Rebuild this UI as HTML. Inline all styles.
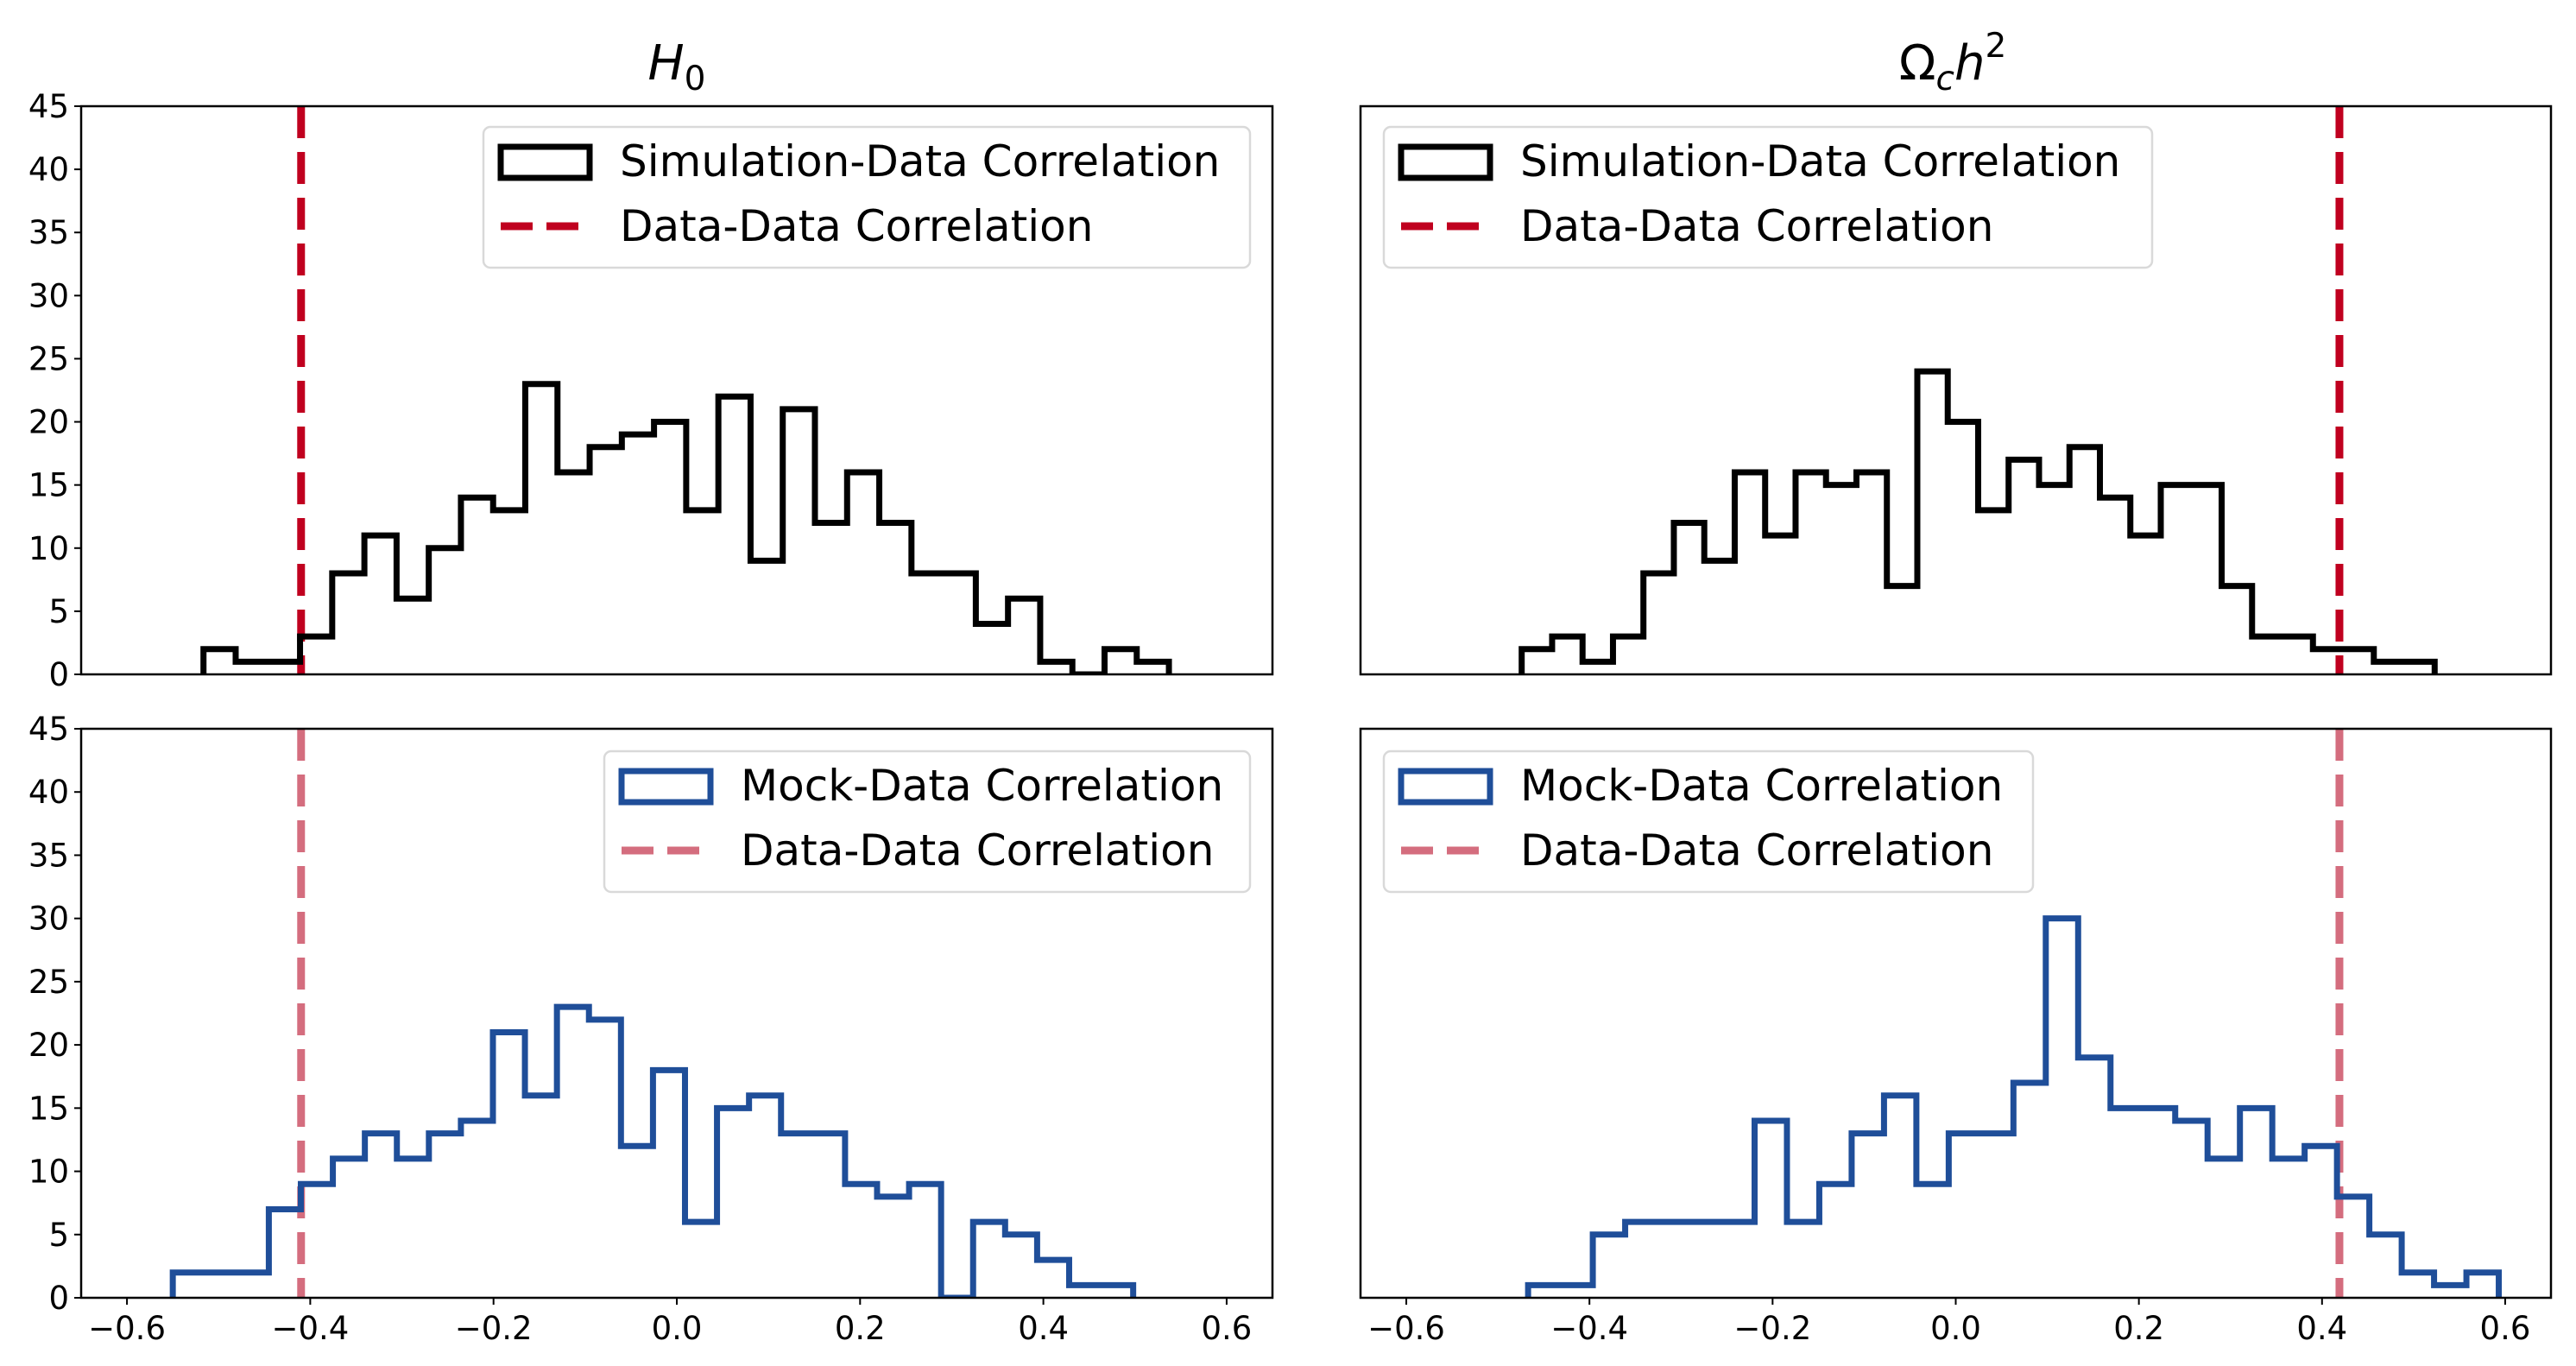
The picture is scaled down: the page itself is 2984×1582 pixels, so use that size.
<!DOCTYPE html>
<html><head><meta charset="utf-8">
<style>
html,body{margin:0;padding:0;background:#fff;}
svg{display:block;font-family:"DejaVu Sans","Liberation Sans",sans-serif;}
</style></head>
<body>
<svg id="fig" width="2984" height="1582" viewBox="0 0 2984 1582" xmlns="http://www.w3.org/2000/svg"></svg>
<script>
// ---- data ----
const h0SimCounts = [2,1,1,3,8,11,6,10,14,13,23,16,18,19,20,13,22,9,21,12,16,12,8,8,4,6,1,0,2,1];
const h0SimRange = [-0.5165, 0.537];
const h0MockCounts = [2,2,2,7,9,11,13,11,13,14,21,16,23,22,12,18,6,15,16,13,13,9,8,9,0,6,5,3,1,1];
const h0MockRange = [-0.55, 0.498];
const omSimCounts = [2,3,1,3,8,12,9,16,11,16,15,16,7,24,20,13,17,15,18,14,11,15,15,7,3,3,2,2,1,1];
const omSimRange = [-0.474, 0.523];
const omMockCounts = [1,1,5,6,6,6,6,14,6,9,13,16,9,13,13,17,30,19,15,15,14,11,15,11,12,8,5,2,1,2];
const omMockRange = [-0.467, 0.593];
const h0DataCorr = -0.41;
const omDataCorr = 0.419;
const xTicks = [-0.6,-0.4,-0.2,0.0,0.2,0.4,0.6];
const xTickLabels = ["\u22120.6","\u22120.4","\u22120.2","0.0","0.2","0.4","0.6"];
const yTicks = [0,5,10,15,20,25,30,35,40,45];
const xLim = [-0.65, 0.65];
const yLim = [0, 45];

const NS = "http://www.w3.org/2000/svg";
const svg = document.getElementById('fig');
function mk(tag, attrs, parent){
  const e = document.createElementNS(NS, tag);
  for (const k in attrs) e.setAttribute(k, attrs[k]);
  (parent||svg).appendChild(e);
  return e;
}
const RED = "#c0001f", PINK = "#d46d7e", BLUE = "#1f4e99";

function panel(cfg){
  const {x0,x1,y0,y1} = cfg;
  const sx = v => x0 + (v - xLim[0]) / (xLim[1]-xLim[0]) * (x1-x0);
  const sy = v => y1 - (v - yLim[0]) / (yLim[1]-yLim[0]) * (y1-y0);
  const g = mk('g', {});
  
  
  const clipId = cfg.name + '-clip';
  const cp = mk('clipPath', {id: clipId}, g);
  mk('rect', {x:x0, y:y0, width:x1-x0, height:y1-y0}, cp);

  const xl = sx(cfg.lineVal);
  const ln = mk('line', {x1:xl, x2:xl, y1:y0, y2:y1, stroke:cfg.lineColor, 'stroke-width':9, 'stroke-dasharray':'37 16', 'clip-path':`url(#${clipId})`}, g);
  
  

  const n = cfg.counts.length;
  const w = (cfg.range[1]-cfg.range[0]) / n;
  let d = `M${sx(cfg.range[0])},${sy(0)}`;
  for (let i=0;i<n;i++){
    const a = sx(cfg.range[0]+i*w), b = sx(cfg.range[0]+(i+1)*w), y = sy(cfg.counts[i]);
    d += ` L${a},${y} L${b},${y}`;
  }
  d += ` L${sx(cfg.range[1])},${sy(0)}`;
  const hp = mk('path', {d:d, fill:'none', stroke:cfg.histColor, 'stroke-width':7, 'stroke-linejoin':'miter', 'clip-path':`url(#${clipId})`}, g);
  
  

  const fr = mk('rect', {x:x0, y:y0, width:x1-x0, height:y1-y0, fill:'none', stroke:'#000', 'stroke-width':2.5}, g);
  
  

  if (cfg.yLabels){
    yTicks.forEach(t => {
      const y = sy(t);
      mk('line', {x1:x0-8, x2:x0, y1:y, y2:y, stroke:'#000', 'stroke-width':2}, g);
      const tx = mk('text', {x:x0-14, y:y+13, 'font-size':37, 'text-anchor':'end', fill:'#000'}, g);
      tx.textContent = String(t);
      
      
    });
  }
  if (cfg.xLabels){
    xTicks.forEach((t,i) => {
      const x = sx(t);
      mk('line', {x1:x, x2:x, y1:y1, y2:y1+8, stroke:'#000', 'stroke-width':2}, g);
      const tx = mk('text', {x:x, y:y1+48, 'font-size':37, 'text-anchor':'middle', fill:'#000'}, g);
      tx.textContent = xTickLabels[i];
      
      
    });
  }

  const L = cfg.legend;
  const lg = mk('g', {}, g);
  
  
  mk('rect', {x:L.x, y:L.y, width:L.w, height:163, rx:8, fill:'#fff', 'fill-opacity':0.85, stroke:'#d9d9d9', 'stroke-width':2.5}, lg);
  mk('rect', {x:L.x+20, y:L.y+23, width:103, height:36, fill:'none', stroke:cfg.histColor, 'stroke-width':7}, lg);
  const t1 = mk('text', {x:L.x+158, y:L.y+57, 'font-size':50, fill:'#000'}, lg);
  t1.textContent = cfg.histLabel;
  
  
  mk('line', {x1:L.x+20, x2:L.x+123, y1:L.y+115, y2:L.y+115, stroke:cfg.lineColor, 'stroke-width':9, 'stroke-dasharray':'37 16'}, lg);
  const t2 = mk('text', {x:L.x+158, y:L.y+132, 'font-size':50, fill:'#000'}, lg);
  t2.textContent = 'Data-Data Correlation';
  
  
}

panel({name:'panel-h0-simulation', x0:94, x1:1474, y0:123, y1:781, counts:h0SimCounts, range:h0SimRange, histColor:'#000', histName:'simulation', histLabel:'Simulation-Data Correlation', lineVal:h0DataCorr, lineColor:RED, yLabels:true, xLabels:false, legend:{x:560, y:147, w:888}});
panel({name:'panel-h0-mock', x0:94, x1:1474, y0:844, y1:1503, counts:h0MockCounts, range:h0MockRange, histColor:BLUE, histName:'mock', histLabel:'Mock-Data Correlation', lineVal:h0DataCorr, lineColor:PINK, yLabels:true, xLabels:true, legend:{x:700, y:870, w:748}});
panel({name:'panel-omega-simulation', x0:1576, x1:2955, y0:123, y1:781, counts:omSimCounts, range:omSimRange, histColor:'#000', histName:'simulation', histLabel:'Simulation-Data Correlation', lineVal:omDataCorr, lineColor:RED, yLabels:false, xLabels:false, legend:{x:1603, y:147, w:890}});
panel({name:'panel-omega-mock', x0:1576, x1:2955, y0:844, y1:1503, counts:omMockCounts, range:omMockRange, histColor:BLUE, histName:'mock', histLabel:'Mock-Data Correlation', lineVal:omDataCorr, lineColor:PINK, yLabels:false, xLabels:true, legend:{x:1603, y:870, w:752}});

const tA = mk('text', {x:784, y:92, 'font-size':56, 'text-anchor':'middle', fill:'#000'});


tA.innerHTML = '<tspan font-style="italic">H</tspan><tspan font-size="39" dy="12">0</tspan>';
const tB = mk('text', {x:2262, y:92, 'font-size':56, 'text-anchor':'middle', fill:'#000'});


tB.innerHTML = '<tspan>\u03A9</tspan><tspan font-size="39" dy="12" font-style="italic">c</tspan><tspan dy="-12" font-style="italic">h</tspan><tspan font-size="39" dy="-26">2</tspan>';
</script>
</body></html>
